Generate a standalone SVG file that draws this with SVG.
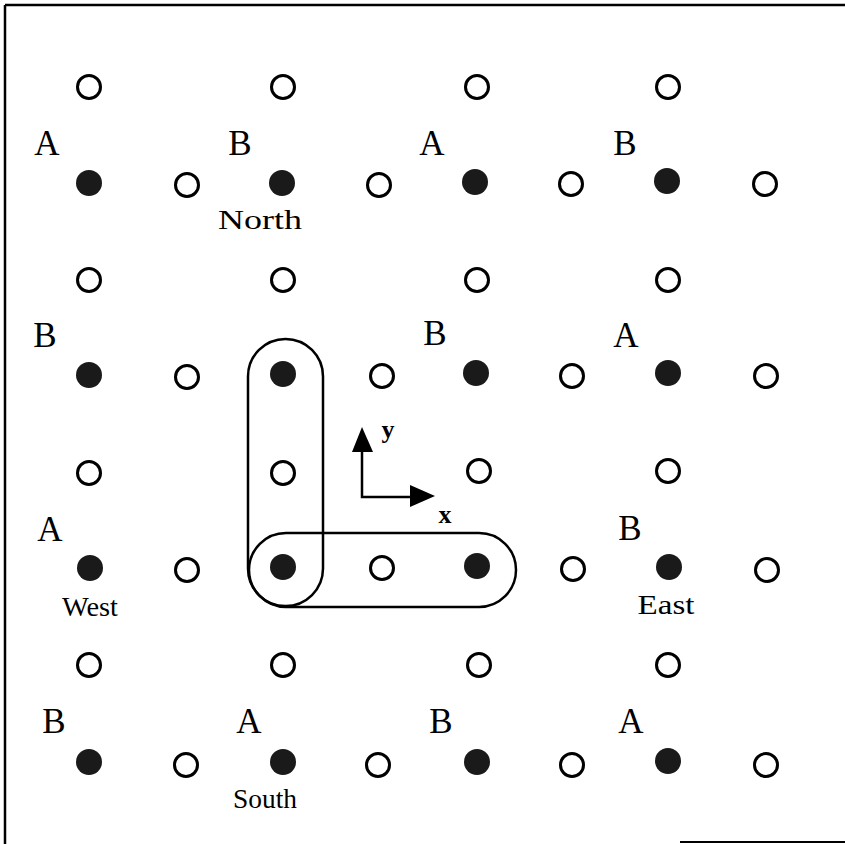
<svg xmlns="http://www.w3.org/2000/svg" width="845" height="844" viewBox="0 0 845 844">
<style>
.f{fill:#1a1a1a}
.o{fill:none;stroke:#000;stroke-width:3}
.lab{font-family:"Liberation Serif","DejaVu Serif",serif;font-size:35px;fill:#000;text-anchor:middle}
.nm{font-family:"Liberation Serif","DejaVu Serif",serif;font-size:27px;fill:#000;text-anchor:middle}
.ax{font-family:"Liberation Serif","DejaVu Serif",serif;font-size:26px;font-weight:bold;fill:#000;text-anchor:middle}
.ln{fill:none;stroke:#000;stroke-width:2.5}
</style>
<defs>
<circle id="fc" r="13" class="f"/>
<circle id="oc" r="11.5" class="o"/>
</defs>
<rect width="845" height="844" fill="#fff"/>
<g id="frame" stroke="#000" stroke-width="2.5">
<line x1="5" y1="5" x2="845" y2="5"/>
<line x1="5" y1="5" x2="5" y2="844"/>
<line x1="680" y1="842" x2="845" y2="842" stroke-width="2"/>
</g>
<g id="lattice">
<g id="row1">
<use href="#oc" x="89" y="87"/><use href="#oc" x="283" y="87"/><use href="#oc" x="477" y="87"/><use href="#oc" x="668" y="87"/>
<use href="#fc" x="89" y="183"/><use href="#oc" x="187" y="185"/><use href="#fc" x="282" y="183"/><use href="#oc" x="379" y="185"/><use href="#fc" x="475" y="182"/><use href="#oc" x="571" y="184"/><use href="#fc" x="667" y="181"/><use href="#oc" x="765" y="184"/>
</g>
<g id="row2">
<use href="#oc" x="89" y="280"/><use href="#oc" x="283" y="280"/><use href="#oc" x="477" y="280"/><use href="#oc" x="668" y="280"/>
<use href="#fc" x="89" y="375"/><use href="#oc" x="187" y="377"/><use href="#fc" x="283" y="374"/><use href="#oc" x="382" y="376"/><use href="#fc" x="476" y="373"/><use href="#oc" x="572" y="376"/><use href="#fc" x="668" y="373"/><use href="#oc" x="766" y="376"/>
</g>
<g id="row3">
<use href="#oc" x="89" y="473"/><use href="#oc" x="283" y="473"/><use href="#oc" x="479" y="471"/><use href="#oc" x="668" y="471"/>
<use href="#fc" x="90" y="568"/><use href="#oc" x="187" y="570"/><use href="#fc" x="283" y="567"/><use href="#oc" x="382" y="568"/><use href="#fc" x="477" y="566"/><use href="#oc" x="573" y="569"/><use href="#fc" x="669" y="567"/><use href="#oc" x="767" y="570"/>
</g>
<g id="row4">
<use href="#oc" x="89" y="665"/><use href="#oc" x="283" y="665"/><use href="#oc" x="479" y="665"/><use href="#oc" x="668" y="665"/>
<use href="#fc" x="89" y="762"/><use href="#oc" x="186" y="765"/><use href="#fc" x="283" y="762"/><use href="#oc" x="378" y="765"/><use href="#fc" x="477" y="762"/><use href="#oc" x="572" y="765"/><use href="#fc" x="668" y="761"/><use href="#oc" x="766" y="765"/>
</g>
</g>
<g id="labels">
<text class="lab" x="47" y="155">A</text><text class="lab" x="240" y="155">B</text><text class="lab" x="432" y="155">A</text><text class="lab" x="625" y="155">B</text>
<text class="lab" x="45" y="347">B</text><text class="lab" x="435" y="345">B</text><text class="lab" x="626" y="347">A</text>
<text class="lab" x="50" y="541">A</text><text class="lab" x="630" y="540">B</text>
<text class="lab" x="54" y="733">B</text><text class="lab" x="249" y="733">A</text><text class="lab" x="441" y="733">B</text><text class="lab" x="631" y="733">A</text>
<text class="nm" x="260" y="229" textLength="84" lengthAdjust="spacingAndGlyphs">North</text>
<text class="nm" x="90" y="616" textLength="56" lengthAdjust="spacingAndGlyphs">West</text>
<text class="nm" x="666" y="614" textLength="57" lengthAdjust="spacingAndGlyphs">East</text>
<text class="nm" x="265" y="808" textLength="64" lengthAdjust="spacingAndGlyphs">South</text>
</g>
<g id="groups">
<rect id="vgroup" class="ln" x="248" y="339" width="75" height="267" rx="37.5"/>
<rect id="hgroup" class="ln" x="249" y="533" width="267" height="74" rx="37"/>
</g>
<g id="axes">
<polyline points="362,450 362,497 412,497" fill="none" stroke="#000" stroke-width="2.5"/>
<polygon points="362,427 352,452 373,452" fill="#000"/>
<polygon points="435,496 410,485 410,507" fill="#000"/>
<text class="ax" x="388" y="438">y</text>
<text class="ax" x="445" y="523">x</text>
</g>
</svg>
